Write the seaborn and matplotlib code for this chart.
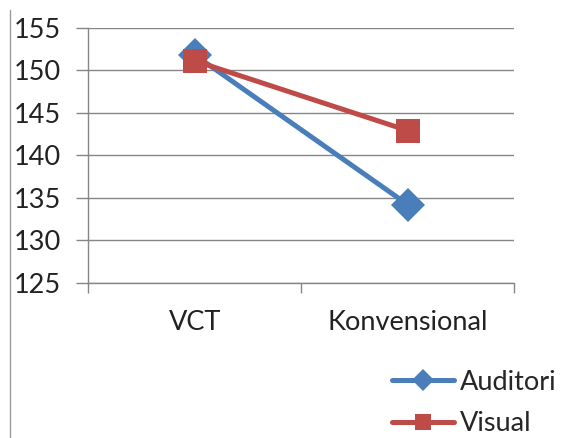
import pandas as pd
import matplotlib.pyplot as plt
import seaborn as sns
from matplotlib.lines import Line2D

# datos
kategori = ['VCT', 'Konvensional']
auditori = [151.8, 134.2]
visual = [151.1, 142.9]
y_ticks = [125, 130, 135, 140, 145, 150, 155]

datos = pd.DataFrame({
    'kategori': kategori * 2,
    'nilai': auditori + visual,
    'grup': ['Auditori'] * 2 + ['Visual'] * 2,
})

sns.set_style("white")
plt.rcParams['font.family'] = ['Lato', 'DejaVu Sans']

biru = '#4A7EBB'
merah = '#BE4B48'
abu = '#868686'
ukuran = 19.5

fig = plt.figure(figsize=(5.63, 4.38), dpi=100)
ax = fig.add_axes([88.3 / 563, 1 - 282.7 / 438, 425.7 / 563, 255 / 438])

sns.lineplot(data=datos, x='kategori', y='nilai', hue='grup', style='grup',
             hue_order=['Auditori', 'Visual'],
             palette={'Auditori': biru, 'Visual': merah},
             markers={'Auditori': 'D', 'Visual': 's'}, dashes=False,
             markersize=17, markeredgewidth=0, linewidth=3.6,
             legend=False, ax=ax)

ax.set_xlim(-0.5, 1.5)
ax.set_ylim(125, 155)
ax.set_yticks(y_ticks)
ax.yaxis.grid(True, color=abu, linewidth=1)
ax.set_axisbelow(True)
ax.set_xlabel('')
ax.set_ylabel('')

for s in ['top', 'right']:
    ax.spines[s].set_visible(False)
ax.spines['left'].set_color(abu)
ax.spines['bottom'].set_color(abu)
ax.spines['left'].set_linewidth(1)
ax.spines['bottom'].set_linewidth(1)

ax.set_xticks([0, 1])
ax.set_xticklabels(kategori)
ax.set_xticks([-0.5, 0.5, 1.5], minor=True)
ax.tick_params(axis='x', which='major', length=0, pad=20, labelsize=ukuran, colors='#222222')
ax.tick_params(axis='x', which='minor', length=7.2, width=1, color=abu, bottom=True)
ax.tick_params(axis='y', length=8.4, width=1, color=abu, left=True, direction='out',
               pad=45.5, labelsize=ukuran, labelcolor='#222222')
for lbl in ax.get_yticklabels():
    lbl.set_horizontalalignment('left')

# linea vertical del borde izquierdo
fig.add_artist(Line2D([10.3 / 563, 10.3 / 563], [0, 1 - 10 / 438], color='#9a9a9a', linewidth=1))

handles = [
    Line2D([], [], color=biru, linewidth=3.6, marker='D', markersize=11, markeredgewidth=0),
    Line2D([], [], color=merah, linewidth=3.6, marker='s', markersize=11, markeredgewidth=0),
]
fig.legend(handles, ['Auditori', 'Visual'], loc='center left',
           bbox_to_anchor=(392 / 563, 1 - 403 / 438), frameon=False,
           fontsize=ukuran, handlelength=2.3, handletextpad=0.2,
           labelspacing=0.62, borderpad=0, borderaxespad=0)

fig.savefig('out.png', dpi=100)
